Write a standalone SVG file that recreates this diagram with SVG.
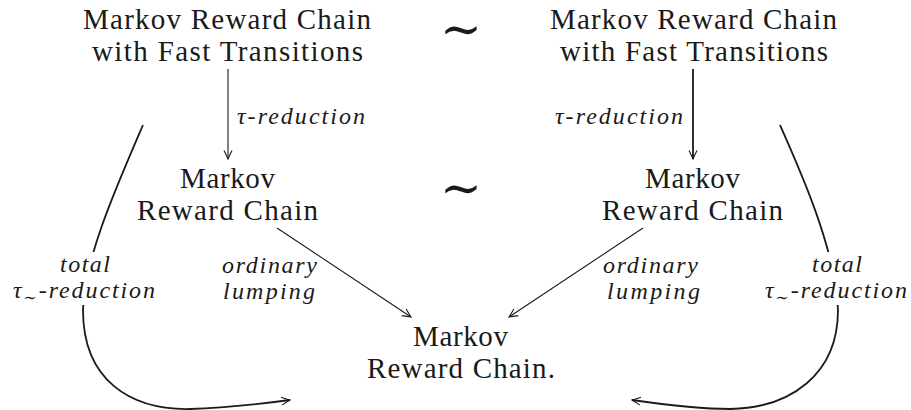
<svg xmlns="http://www.w3.org/2000/svg" width="911" height="410" viewBox="0 0 911 410">
  <style>
    text { font-family: 'Liberation Serif', 'Times New Roman', Tinos, 'Noto Serif', 'DejaVu Serif', FreeSerif, serif; fill: #1a1a1a; }
    .node { font-size: 29px; text-anchor: middle; }
    .lbl { font-style: italic; font-size: 24px; }
    .sim { font-family: 'DejaVu Serif', 'DejaVu Sans', serif; font-size: 50px; text-anchor: middle; }
    .thin { fill: none; stroke: #1a1a1a; stroke-width: 1.1; }
    .thick { fill: none; stroke: #1a1a1a; stroke-width: 1.8; }
    .gap { fill: #ffffff; }
  </style>
  <defs>
    <marker id="tip" viewBox="-10 -5 11 10" refX="0" refY="0" markerWidth="11" markerHeight="10" markerUnits="userSpaceOnUse" orient="auto">
      <path d="M-8.5,-4 Q-3,-1.2 0,0 Q-3,1.2 -8.5,4" fill="none" stroke="#1a1a1a" stroke-width="1.1"/>
    </marker>
  </defs>

  <!-- connectors -->
  <g id="connectors">
    <line class="thin" x1="228" y1="69" x2="228" y2="159" marker-end="url(#tip)"/>
    <line class="thick" x1="693" y1="69" x2="693" y2="159" marker-end="url(#tip)"/>
    <line class="thin" x1="277" y1="228" x2="411" y2="317" marker-end="url(#tip)"/>
    <line class="thin" x1="643" y1="228" x2="509" y2="317" marker-end="url(#tip)"/>
    <path class="thick" d="M143,125 C115,190 84,260 83,310 C83,380 130,410 190,409 C230,408 260,404 290,400" marker-end="url(#tip)"/>
    <path class="thick" d="M780,125 C800,170 836,250 838,310 C838,375 790,408 730,409 C695,409 660,404 632,400" marker-end="url(#tip)"/>
  </g>

  <!-- top row -->
  <g id="mrcft-left">
    <text class="node" x="227" y="29" textLength="288">Markov Reward Chain</text>
    <text class="node" x="227.5" y="61" textLength="271">with Fast Transitions</text>
  </g>
  <g id="mrcft-right">
    <text class="node" x="693.5" y="29" textLength="287">Markov Reward Chain</text>
    <text class="node" x="694" y="61" textLength="268">with Fast Transitions</text>
  </g>
  <g id="sim-top"><text class="sim" x="461" y="46">∼</text></g>

  <!-- middle row -->
  <g id="mrc-left">
    <text class="node" x="227.5" y="188" textLength="95">Markov</text>
    <text class="node" x="227.5" y="220" textLength="181">Reward Chain</text>
  </g>
  <g id="mrc-right">
    <text class="node" x="692.5" y="188" textLength="95">Markov</text>
    <text class="node" x="692.5" y="220" textLength="181">Reward Chain</text>
  </g>
  <g id="sim-mid"><text class="sim" x="461" y="205">∼</text></g>

  <!-- bottom -->
  <g id="mrc-bottom">
    <text class="node" x="460.5" y="346" textLength="95">Markov</text>
    <text class="node" x="461" y="378" textLength="188">Reward Chain.</text>
  </g>

  <!-- connector labels -->
  <g id="labels">
    <text class="lbl" x="237" y="124" textLength="128">τ-reduction</text>
    <text class="lbl" x="555" y="124" textLength="128">τ-reduction</text>

    <rect class="gap" x="10" y="252" width="150" height="53"/>
    <text class="lbl" x="60" y="272" textLength="50">total</text>
    <text class="lbl" x="13" y="298" textLength="142">τ<tspan font-size="16" dy="5">∼</tspan><tspan dy="-5">-reduction</tspan></text>

    <rect class="gap" x="762" y="252" width="148" height="53"/>
    <text class="lbl" x="812" y="272" textLength="50">total</text>
    <text class="lbl" x="765" y="298" textLength="142">τ<tspan font-size="16" dy="5">∼</tspan><tspan dy="-5">-reduction</tspan></text>

    <text class="lbl" x="222" y="273" textLength="95">ordinary</text>
    <text class="lbl" x="223" y="299" textLength="92">lumping</text>
    <text class="lbl" x="603" y="273" textLength="95">ordinary</text>
    <text class="lbl" x="607" y="299" textLength="93">lumping</text>
  </g>
</svg>
